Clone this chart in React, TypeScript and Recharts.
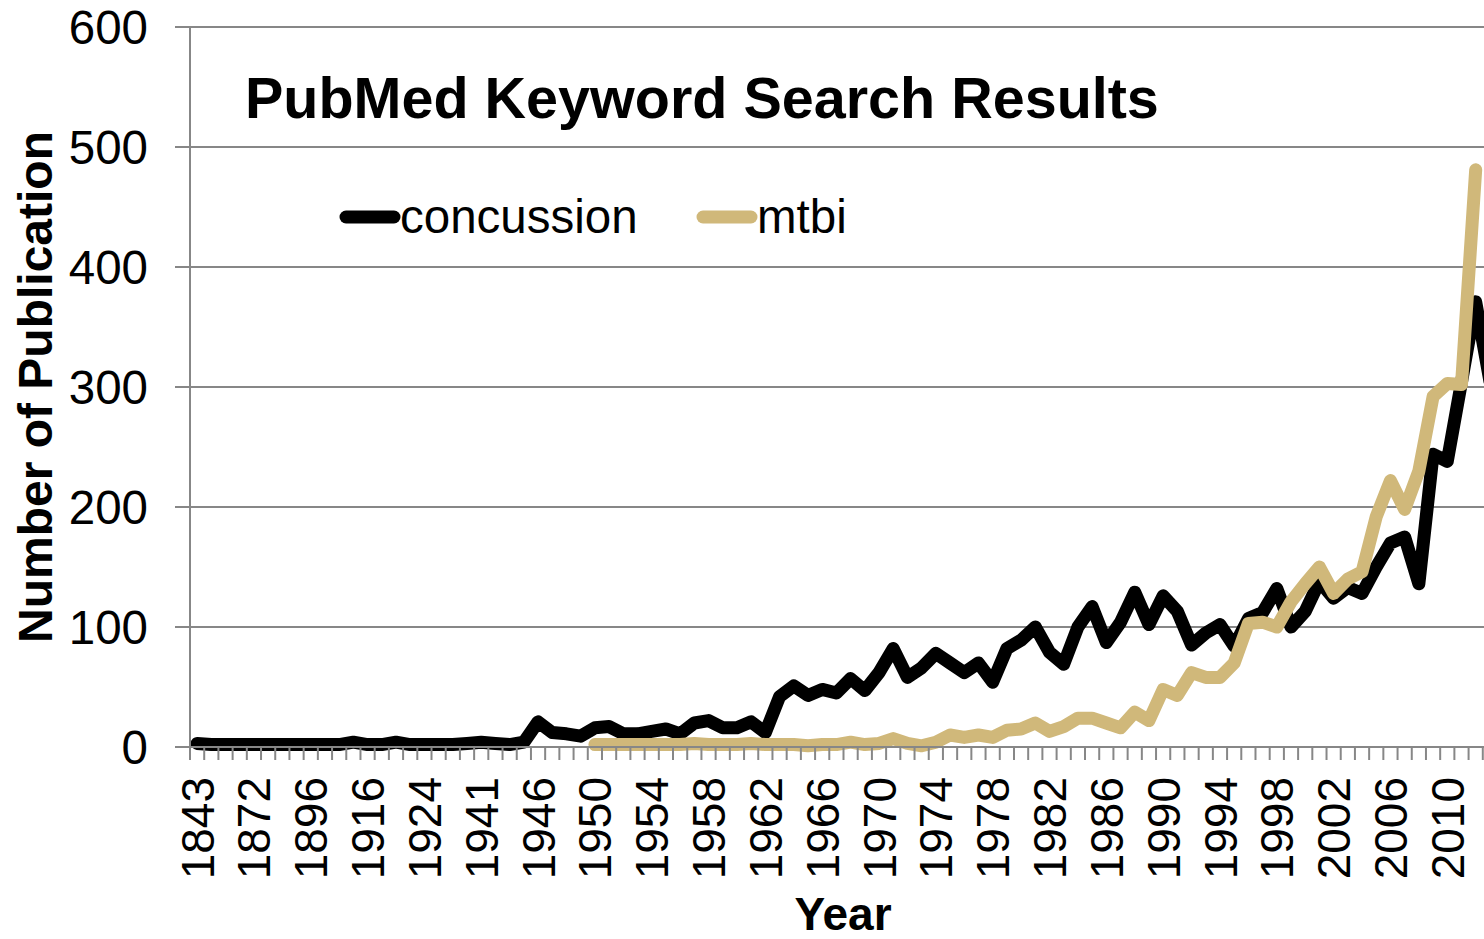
import { LineChart, Line, XAxis, YAxis, CartesianGrid, Legend } from "recharts";

// Categories: years that appear in the PubMed results (sparse before 1946)
const years = [
  1843, 1850, 1860, 1865, 1872, 1880, 1885, 1890, 1896, 1900, 1905, 1912,
  1916, 1918, 1920, 1922, 1924, 1926, 1930, 1936, 1941, 1942, 1943, 1945,
  1946, 1947, 1948, 1949, 1950, 1951, 1952, 1953, 1954, 1955, 1956, 1957,
  1958, 1959, 1960, 1961, 1962, 1963, 1964, 1965, 1966, 1967, 1968, 1969,
  1970, 1971, 1972, 1973, 1974, 1975, 1976, 1977, 1978, 1979, 1980, 1981,
  1982, 1983, 1984, 1985, 1986, 1987, 1988, 1989, 1990, 1991, 1992, 1993,
  1994, 1995, 1996, 1997, 1998, 1999, 2000, 2001, 2002, 2003, 2004, 2005,
  2006, 2007, 2008, 2009, 2010, 2011, 2012, 2013,
];

const concussion = [
  3, 2, 2, 2, 2, 2, 2, 2, 2, 2, 2, 4,
  2, 2, 4, 2, 2, 2, 2, 3, 4, 3, 2, 4,
  21, 12, 11, 9, 16, 17, 11, 11, 13, 15, 11, 20,
  22, 16, 16, 21, 12, 42, 51, 43, 48, 45, 57, 47,
  62, 82, 58, 66, 78, 70, 62, 70, 54, 82, 89, 100,
  79, 69, 100, 117, 87, 104, 129, 102, 126, 113, 85, 95,
  102, 84, 107, 112, 132, 100, 113, 138, 124, 133, 128, 150,
  170, 175, 136, 244, 238, 304, 371, 305,
];

const mtbi = [
  null, null, null, null, null, null, null, null, null, null, null, null,
  null, null, null, null, null, null, null, null, null, null, null, null,
  null, null, null, null, 2, 2, 2, 2, 2, 2, 2, 3,
  2, 2, 2, 3, 2, 2, 2, 1, 2, 2, 4, 2,
  3, 7, 3, 1, 4, 10, 8, 10, 8, 14, 15, 20,
  13, 17, 24, 24, 20, 16, 29, 22, 48, 43, 62, 58,
  58, 70, 103, 104, 100, 121, 136, 150, 128, 140, 146, 192,
  222, 198, 230, 292, 303, 302, 481, null,
];

const yTicks = [0, 100, 200, 300, 400, 500, 600];

const data = years.map((year, i) => ({
  idx: i,
  year,
  concussion: concussion[i],
  mtbi: mtbi[i],
}));
const xTicks = data.map((d) => d.idx);

const FONT = "'Liberation Sans', Arial, Helvetica, sans-serif";
const GRID = "#878787";
const TAN = "#D0B87A";

const CHART_W = 1510;
const CHART_H = 939;
const PLOT_LEFT = 190;
const PLOT_RIGHT = 1497;
const PLOT_TOP = 27;
const PLOT_BOTTOM = 747;
const BAND = (PLOT_RIGHT - PLOT_LEFT) / years.length;

function XTick(props: any) {
  const { x, payload } = props;
  const i = payload.value as number;
  const left = x - BAND / 2;
  return (
    <g>
      <line x1={left} x2={left} y1={PLOT_BOTTOM} y2={PLOT_BOTTOM + 13} stroke={GRID} strokeWidth={2} />
      {i % 4 === 0 && (
        <text
          x={x}
          y={777}
          transform={`rotate(-90, ${x}, 777)`}
          textAnchor="end"
          dy="0.36em"
          fontSize={46}
          fontFamily={FONT}
          fill="#000"
        >
          {years[i]}
        </text>
      )}
    </g>
  );
}

function YTick(props: any) {
  const { y, payload } = props;
  return (
    <text x={148} y={y} dy="0.36em" textAnchor="end" fontSize={47.5} fontFamily={FONT} fill="#000">
      {payload.value}
    </text>
  );
}

function LegendBox() {
  return (
    <svg width={560} height={60}>
      <line x1={16} x2={64} y1={27} y2={27} stroke="#000" strokeWidth={13} strokeLinecap="round" />
      <text x={70} y={43} fontSize={47.5} fontFamily={FONT} fill="#000">concussion</text>
      <line x1={373} x2={421} y1={27} y2={27} stroke={TAN} strokeWidth={13} strokeLinecap="round" />
      <text x={427} y={43} fontSize={47.5} fontFamily={FONT} fill="#000">mtbi</text>
    </svg>
  );
}

export default function App() {
  return (
    <div style={{ position: "relative", width: 1484, height: 939, overflow: "hidden", background: "#fff" }}>
      <style>{"body{margin:0;overflow:hidden;background:#fff}"}</style>
      <LineChart
        width={CHART_W}
        height={CHART_H}
        data={data}
        margin={{ top: PLOT_TOP, right: CHART_W - PLOT_RIGHT, bottom: 0, left: 0 }}
      >
        <CartesianGrid vertical={false} stroke={GRID} strokeWidth={2} />
        <XAxis
          type="number"
          dataKey="idx"
          domain={[-0.5, years.length - 0.5]}
          ticks={xTicks}
          interval={0}
          height={CHART_H - PLOT_BOTTOM}
          tickLine={false}
          axisLine={{ stroke: GRID, strokeWidth: 2 }}
          tick={<XTick />}
        />
        <YAxis
          domain={[0, 600]}
          ticks={yTicks}
          width={PLOT_LEFT}
          tickSize={15}
          tickLine={{ stroke: GRID, strokeWidth: 2 }}
          axisLine={{ stroke: GRID, strokeWidth: 2 }}
          tick={<YTick />}
        />
        <Legend
          layout="horizontal"
          verticalAlign="middle"
          align="center"
          content={<LegendBox />}
          wrapperStyle={{ left: 330, top: 190, width: 560, height: 60 }}
        />
        <Line
          type="linear"
          dataKey="concussion"
          stroke="#000"
          strokeWidth={13}
          strokeLinecap="round"
          strokeLinejoin="round"
          dot={false}
          activeDot={false}
          isAnimationActive={false}
        />
        <Line
          type="linear"
          dataKey="mtbi"
          stroke={TAN}
          strokeWidth={13}
          strokeLinecap="round"
          strokeLinejoin="round"
          dot={false}
          activeDot={false}
          isAnimationActive={false}
        />
        <text x={245} y={118} fontSize={57.5} fontWeight="bold" fontFamily={FONT} fill="#000">
          PubMed Keyword Search Results
        </text>
        <text
          x={52}
          y={387}
          transform="rotate(-90, 52, 387)"
          textAnchor="middle"
          fontSize={48}
          fontWeight="bold"
          fontFamily={FONT}
          fill="#000"
        >
          Number of Publication
        </text>
        <text x={843} y={930} textAnchor="middle" fontSize={46} fontWeight="bold" fontFamily={FONT} fill="#000">
          Year
        </text>
      </LineChart>
    </div>
  );
}
